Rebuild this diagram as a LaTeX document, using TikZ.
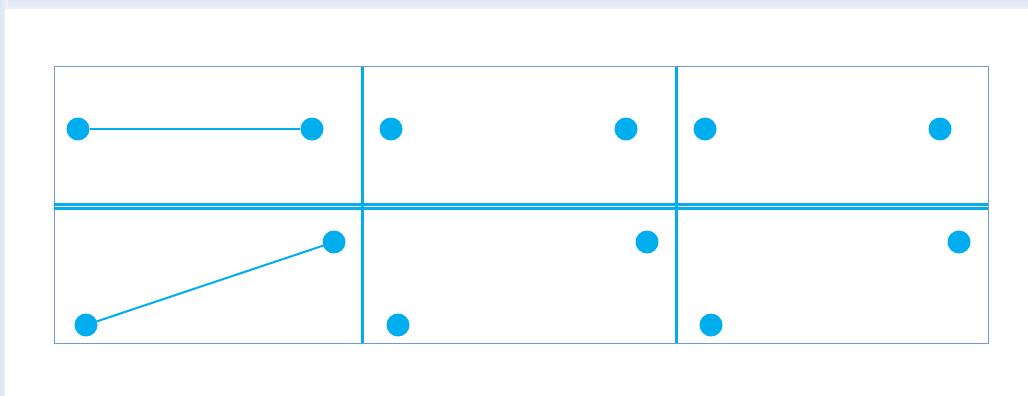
\documentclass[tikz,border=0pt]{standalone}
\usetikzlibrary{shadings}
\definecolor{cyanline}{HTML}{00AEEF}
\definecolor{frameblue}{HTML}{6F9BD6}
\definecolor{shadowblue}{HTML}{DCE6F3}
\tikzset{
  dot/.style={circle, fill=cyanline, draw=none, minimum size=23pt, inner sep=0pt},
  link/.style={draw=cyanline, line width=2pt},
  divider/.style={draw=cyanline, line width=3pt},
  hdivider/.style={draw=cyanline, line width=2.2pt},
  frame/.style={draw=frameblue, line width=1pt}
}
\begin{document}
\begin{tikzpicture}[x=1pt,y=-1pt]
\useasboundingbox (0,0) rectangle (1028,396);
% background and card shadow
\fill[shadowblue!45] (0,0) rectangle (1028,396);
\shade[top color=shadowblue, bottom color=shadowblue!40] (0,0) rectangle (1028,12);
\shade[left color=shadowblue, right color=shadowblue!40] (0,0) rectangle (8,396);
\fill[white] (5,9) rectangle (1028,396);
% frame
\draw[frame] (54,67) rectangle (988,343);
% horizontal double divider
\draw[hdivider] (54,204.5) -- (988,204.5);
\draw[hdivider] (54,208.5) -- (988,208.5);
% vertical dividers
\draw[divider] (362.5,67) -- (362.5,206);
\draw[divider] (362.5,206) -- (362.5,343);
\draw[divider] (676.5,67) -- (676.5,206);
\draw[divider] (676.5,206) -- (676.5,343);
% dots
\node[dot] (a1) at (78,129) {};
\node[dot] (a2) at (312,129) {};
\node[dot] (b1) at (391,129) {};
\node[dot] (b2) at (626,129) {};
\node[dot] (c1) at (705,129) {};
\node[dot] (c2) at (940,129) {};
\node[dot] (d1) at (86,325) {};
\node[dot] (d2) at (334,242) {};
\node[dot] (e1) at (398,325) {};
\node[dot] (e2) at (647,242) {};
\node[dot] (f1) at (711,325) {};
\node[dot] (f2) at (959,242) {};
% links
\draw[link] (a1) -- (a2);
\draw[link] (d1) -- (d2);
\end{tikzpicture}
\end{document}
